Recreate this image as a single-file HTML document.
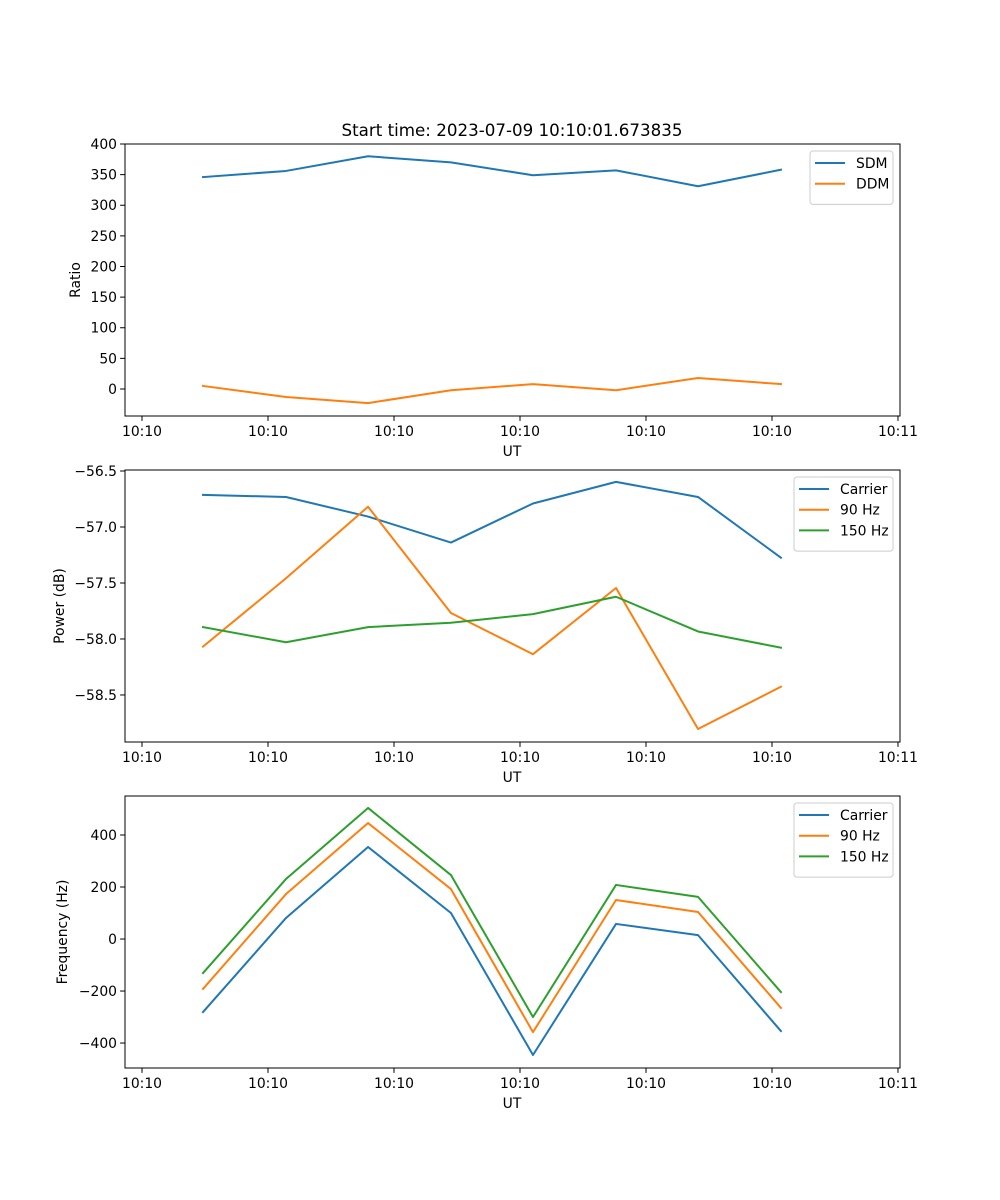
<!DOCTYPE html>
<html><head><meta charset="utf-8"><style>
body{margin:0;background:#fff}
svg{display:block}
text{font-family:"DejaVu Sans","Liberation Sans",sans-serif;font-size:13.9px;fill:#000}
</style></head><body>
<svg id="fig" width="1000" height="1200" xmlns="http://www.w3.org/2000/svg">
<rect width="1000" height="1200" fill="#fff"/>
<text x="512" y="136" text-anchor="middle" font-size="16.7px" style="font-size:16.7px">Start time: 2023-07-09 10:10:01.673835</text>
</svg>
<script>
const times = [0.484, 1.143, 1.794, 2.452, 3.103, 3.762, 4.413, 5.071];
const xTickValues = [0, 1, 2, 3, 4, 5, 6];
const xTickLabels = ["10:10","10:10","10:10","10:10","10:10","10:10","10:11"];
const sdm = [346, 356, 380, 370, 349, 357, 331, 358];
const ddm = [5, -13, -23, -2, 8, -2, 18, 8];
const ratioTicks = [400, 350, 300, 250, 200, 150, 100, 50, 0];
const pCarrier = [-56.713, -56.732, -56.907, -57.139, -56.790, -56.597, -56.732, -57.274];
const p90 = [-58.068, -57.458, -56.819, -57.768, -58.136, -57.545, -58.804, -58.426];
const p150 = [-57.894, -58.029, -57.894, -57.855, -57.778, -57.623, -57.933, -58.078];
const powerTicks = [-56.5, -57.0, -57.5, -58.0, -58.5];
const fCarrier = [-281, 81, 354, 100, -446, 58, 15, -354];
const f90 = [-192, 173, 446, 192, -358, 150, 104, -265];
const f150 = [-131, 231, 504, 246, -300, 208, 162, -204];
const freqTicks = [400, 200, 0, -200, -400];

const NS = "http://www.w3.org/2000/svg";
const svg = document.getElementById('fig');
function mk(tag, attrs, parent){const e=document.createElementNS(NS,tag);for(const k in attrs)e.setAttribute(k,attrs[k]);(parent||svg).appendChild(e);return e;}
const L=125,R=900,xmin=-0.135,xmax=6.016;
const xs = v => L + (v-xmin)/(xmax-xmin)*(R-L);
const C = {blue:"#1f77b4",orange:"#ff7f0e",green:"#2ca02c"};

function panel(name, top, bot, ymin, ymax, ticks, tickFmt, ylabel, ylabelX, series, legend){
  const g = mk('g',{});
  
  
  const ys = v => bot - (v-ymin)/(ymax-ymin)*(bot-top);
  series.forEach(s=>{
    const d = s.vals.map((v,i)=>(i?'L':'M')+xs(times[i]).toFixed(2)+','+ys(v).toFixed(2)).join(' ');
    const p = mk('path',{d:d,fill:'none',stroke:s.color,'stroke-width':2,'stroke-linejoin':'round','stroke-linecap':'square'},g);
    
    
  });
  const fr = mk('rect',{x:L,y:top,width:R-L,height:bot-top,fill:'none',stroke:'#000','stroke-width':1},g);
  
  
  ticks.forEach(t=>{
    const y=ys(t);
    mk('line',{x1:L-4.9,x2:L,y1:y,y2:y,stroke:'#000','stroke-width':1},g);
    const tx = mk('text',{x:L-8,y:y+5,'text-anchor':'end'},g);
    tx.textContent = tickFmt(t);
    
    
  });
  xTickValues.forEach((t,i)=>{
    const x=xs(t);
    mk('line',{x1:x,x2:x,y1:bot,y2:bot+4.9,stroke:'#000','stroke-width':1},g);
    const tx = mk('text',{x:x,y:bot+20,'text-anchor':'middle'},g);
    tx.textContent = xTickLabels[i];
    
    
  });
  const xl = mk('text',{x:512,y:bot+40,'text-anchor':'middle'},g);
  xl.textContent='UT';
  
  
  const cy=(top+bot)/2;
  const yl = mk('text',{x:ylabelX,y:cy,'text-anchor':'middle',transform:`rotate(-90 ${ylabelX} ${cy})`},g);
  yl.textContent=ylabel;
  
  
  const lg = mk('g',{},g);
  
  
  const h = 12 + series.length*20.7;
  mk('rect',{x:legend.x,y:top+7,width:R-7-legend.x,height:h,rx:3,fill:'#fff','fill-opacity':0.8,stroke:'#ccc','stroke-width':1},lg);
  series.forEach((s,i)=>{
    const y = top+19+i*20.7;
    mk('line',{x1:legend.x+5,x2:legend.x+35,y1:y,y2:y,stroke:s.color,'stroke-width':2},lg);
    const t = mk('text',{x:legend.x+46,y:y+5},lg);
    t.textContent = s.label;
    
    
  });
}
panel('ratio-panel',144,416,-44.1,400,ratioTicks,v=>v.toString().replace('-','\u2212'),'Ratio',80,
  [{id:'sdm',label:'SDM',vals:sdm,color:C.blue},{id:'ddm',label:'DDM',vals:ddm,color:C.orange}],{x:810});
panel('power-panel',470,742,-58.92,-56.491,powerTicks,v=>v.toFixed(1).replace('-','\u2212'),'Power (dB)',64,
  [{id:'carrier',label:'Carrier',vals:pCarrier,color:C.blue},{id:'90hz',label:'90 Hz',vals:p90,color:C.orange},{id:'150hz',label:'150 Hz',vals:p150,color:C.green}],{x:794});
panel('frequency-panel',796,1068,-496,550,freqTicks,v=>v.toString().replace('-','\u2212'),'Frequency (Hz)',67,
  [{id:'carrier',label:'Carrier',vals:fCarrier,color:C.blue},{id:'90hz',label:'90 Hz',vals:f90,color:C.orange},{id:'150hz',label:'150 Hz',vals:f150,color:C.green}],{x:794});
</script>
</body></html>
